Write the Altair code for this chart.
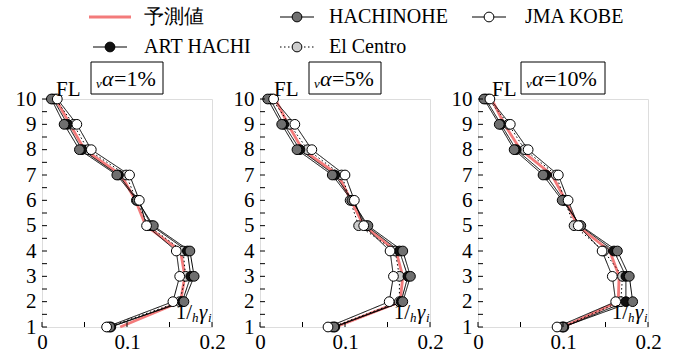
import altair as alt
import pandas as pd

FONT = "Liberation Serif"

floors = [1, 2, 3, 4, 5, 6, 7, 8, 9, 10]
series_names = ["予測値", "HACHINOHE", "ART HACHI", "El Centro", "JMA KOBE"]
panel_labels = ["1%", "5%", "10%"]

# panel 1 : alpha = 1%
p1_pred = [0.092, 0.163, 0.168, 0.163, 0.122, 0.110, 0.093, 0.050, 0.033, 0.016]
p1_hachinohe = [0.080, 0.167, 0.179, 0.174, 0.131, 0.112, 0.088, 0.044, 0.026, 0.011]
p1_art = [0.081, 0.165, 0.175, 0.171, 0.129, 0.113, 0.090, 0.047, 0.030, 0.013]
p1_elcentro = [0.078, 0.162, 0.169, 0.166, 0.125, 0.111, 0.099, 0.054, 0.037, 0.016]
p1_kobe = [0.076, 0.154, 0.162, 0.158, 0.123, 0.1145, 0.103, 0.058, 0.041, 0.018]

# panel 2 : alpha = 5%
p2_pred = [0.089, 0.165, 0.168, 0.160, 0.122, 0.107, 0.092, 0.050, 0.033, 0.018]
p2_hachinohe = [0.087, 0.168, 0.177, 0.168, 0.127, 0.108, 0.085, 0.0435, 0.0255, 0.009]
p2_art = [0.088, 0.166, 0.174, 0.164, 0.125, 0.109, 0.088, 0.047, 0.028, 0.012]
p2_elcentro = [0.085, 0.164, 0.164, 0.159, 0.116, 0.106, 0.096, 0.056, 0.035, 0.014]
p2_kobe = [0.080, 0.152, 0.157, 0.153, 0.122, 0.111, 0.100, 0.061, 0.041, 0.016]

# panel 3 : alpha = 10%
p3_pred = [0.100, 0.165, 0.166, 0.155, 0.117, 0.103, 0.087, 0.050, 0.031, 0.016]
p3_hachinohe = [0.100, 0.182, 0.178, 0.164, 0.121, 0.099, 0.0765, 0.0425, 0.025, 0.007]
p3_art = [0.101, 0.174, 0.174, 0.160, 0.120, 0.101, 0.080, 0.045, 0.027, 0.009]
p3_elcentro = [0.099, 0.168, 0.170, 0.148, 0.113, 0.102, 0.092, 0.055, 0.036, 0.012]
p3_kobe = [0.093, 0.162, 0.158, 0.146, 0.118, 0.106, 0.0945, 0.059, 0.038, 0.014]

x_labels = [0, 0.1, 0.2]
y_labels = [1, 2, 3, 4, 5, 6, 7, 8, 9, 10]
x_ticks = [0, 0.05, 0.1, 0.15, 0.2]
y_ticks = [1, 1.5, 2, 2.5, 3, 3.5, 4, 4.5, 5, 5.5, 6, 6.5, 7, 7.5, 8, 8.5, 9, 9.5, 10]

panels_data = [
    [p1_pred, p1_hachinohe, p1_art, p1_elcentro, p1_kobe],
    [p2_pred, p2_hachinohe, p2_art, p2_elcentro, p2_kobe],
    [p3_pred, p3_hachinohe, p3_art, p3_elcentro, p3_kobe],
]

rows = []
for pi, sets in enumerate(panels_data):
    for name, vals in zip(series_names, sets):
        for f, v in zip(floors, vals):
            rows.append({"panel": pi, "series": name, "floor": f, "value": v})
df = pd.DataFrame(rows)

marker_series = ["HACHINOHE", "ART HACHI", "El Centro", "JMA KOBE"]
marker_fill = ["#6f6f6f", "#111111", "#cccccc", "#ffffff"]
dash_range = [[1, 0], [1, 0], [1.5, 2.5], [1, 0]]
draw_order = ["El Centro", "ART HACHI", "HACHINOHE", "JMA KOBE"]
RED = "#f37b7b"

W, H = 170, 228


def panel(pi):
    d = df[df.panel == pi]
    xs = alt.Scale(domain=[0, 0.2], nice=False, zero=False)
    ys = alt.Scale(domain=[1, 10], nice=False, zero=False)
    xax = alt.Axis(values=x_labels, labelExpr="datum.value == 0 ? '0' : format(datum.value, '.1f')",
                   ticks=False, domain=False, grid=False, title=None, labelFlush=False,
                   labelOverlap=False, labelFont=FONT, labelFontSize=21, labelColor="black",
                   labelPadding=4)
    yax = alt.Axis(values=y_labels, ticks=False, domain=False, grid=False, title=None,
                   labelFlush=False, labelOverlap=False, labelFont=FONT, labelFontSize=21,
                   labelColor="black", labelPadding=6)

    ytick = alt.Chart(pd.DataFrame({"t": y_ticks})).mark_rule(color="black", strokeWidth=1).encode(
        y=alt.Y("t:Q", scale=ys, axis=yax), x=alt.value(0), x2=alt.value(5))
    xtick = alt.Chart(pd.DataFrame({"t": x_ticks})).mark_rule(color="black", strokeWidth=1).encode(
        x=alt.X("t:Q", scale=xs, axis=xax), y=alt.value(H), y2=alt.value(H - 5))

    red = alt.Chart(d[d.series == "予測値"]).mark_line(color=RED, strokeWidth=2.8).encode(
        x=alt.X("value:Q", scale=xs, axis=xax), y=alt.Y("floor:Q", scale=ys, axis=yax),
        order="floor:Q")

    dm = d[d.series != "予測値"]
    lines = alt.Chart(dm).mark_line(color="black", strokeWidth=1).encode(
        x=alt.X("value:Q", scale=xs, axis=xax), y=alt.Y("floor:Q", scale=ys, axis=yax),
        detail="series:N", order="floor:Q",
        strokeDash=alt.StrokeDash("series:N", scale=alt.Scale(domain=marker_series, range=dash_range),
                                  legend=None))

    dp = dm.copy()
    dp["k"] = dp.series.map({s: i for i, s in enumerate(draw_order)})
    dp = dp.sort_values(["k", "floor"])
    pts = alt.Chart(dp).mark_point(shape="circle", filled=True, size=95, stroke="black",
                                   strokeWidth=1, opacity=1).encode(
        x=alt.X("value:Q", scale=xs, axis=xax), y=alt.Y("floor:Q", scale=ys, axis=yax),
        fill=alt.Fill("series:N", scale=alt.Scale(domain=marker_series, range=marker_fill),
                      legend=None))

    lab = panel_labels[pi]
    bw = 72 if len(lab) == 2 else 84
    bx0 = W / 2 - bw / 2
    one = alt.Chart(pd.DataFrame({"lab": ["=" + lab]}))
    box = one.mark_rect(fill="white", stroke="black", strokeWidth=1).encode(
        x=alt.value(bx0), x2=alt.value(bx0 + bw), y=alt.value(-37), y2=alt.value(-5))
    t_nu = one.mark_text(text="ν", font=FONT, fontSize=13, fontStyle="italic", align="left",
                         baseline="alphabetic", color="black").encode(
        x=alt.value(bx0 + 5), y=alt.value(-11))
    t_al = one.mark_text(text="α", font=FONT, fontSize=22, fontStyle="italic", align="left",
                         baseline="alphabetic", color="black").encode(
        x=alt.value(bx0 + 11), y=alt.value(-13))
    t_eq = one.mark_text(font=FONT, fontSize=22, align="left", baseline="alphabetic",
                         color="black").encode(
        text="lab:N", x=alt.value(bx0 + 23), y=alt.value(-13))
    fl = one.mark_text(text="FL", font=FONT, fontSize=21, align="left", baseline="alphabetic",
                       color="black").encode(x=alt.value(14), y=alt.value(-3))
    g1 = one.mark_text(text="1/", font=FONT, fontSize=21, align="right", baseline="alphabetic",
                       color="black").encode(x=alt.value(150), y=alt.value(H - 8))
    g2 = one.mark_text(text="h", font=FONT, fontSize=13, fontStyle="italic", align="left",
                       baseline="alphabetic", color="black").encode(x=alt.value(150), y=alt.value(H - 5))
    g3 = one.mark_text(text="γ", font=FONT, fontSize=21, fontStyle="italic", align="left",
                       baseline="alphabetic", color="black").encode(x=alt.value(157), y=alt.value(H - 8))
    g4 = one.mark_text(text="i", font=FONT, fontSize=13, fontStyle="italic", align="left",
                       baseline="alphabetic", color="black").encode(x=alt.value(166), y=alt.value(H - 5))

    return alt.layer(red, lines, pts, ytick, xtick, box, t_nu, t_al, t_eq, fl, g1, g2, g3, g4).properties(
        width=W, height=H)


# legend
legend_order = ["予測値", "HACHINOHE", "JMA KOBE", "ART HACHI", "El Centro"]
col_cx = [68, 255, 447]
col_tx = [102, 287, 483]
row_y = [16, 46]
leg_rows = []
for i, name in enumerate(legend_order):
    c, r = i % 3, i // 3
    half = 21 if name == "予測値" else 17
    leg_rows.append({"name": name, "cx": col_cx[c], "x0": col_cx[c] - half, "x1": col_cx[c] + half,
                     "tx": col_tx[c], "y": row_y[r]})
leg = pd.DataFrame(leg_rows)
LW = 606
lxs = alt.Scale(domain=[0, LW], nice=False, zero=False)
lys = alt.Scale(domain=[60, 0], nice=False, zero=False)
lbase = alt.Chart(leg)
l_red = lbase.transform_filter("datum.name == '予測値'").mark_rule(color=RED, strokeWidth=2.8).encode(
    x=alt.X("x0:Q", scale=lxs, axis=None), x2="x1:Q", y=alt.Y("y:Q", scale=lys, axis=None))
l_lines = lbase.transform_filter("datum.name != '予測値'").mark_rule(color="black", strokeWidth=1).encode(
    x=alt.X("x0:Q", scale=lxs, axis=None), x2="x1:Q", y=alt.Y("y:Q", scale=lys, axis=None),
    strokeDash=alt.StrokeDash("name:N", scale=alt.Scale(domain=marker_series, range=dash_range), legend=None))
l_pts = lbase.transform_filter("datum.name != '予測値'").mark_point(
    shape="circle", filled=True, size=95, stroke="black", strokeWidth=1, opacity=1).encode(
    x=alt.X("cx:Q", scale=lxs, axis=None), y=alt.Y("y:Q", scale=lys, axis=None),
    fill=alt.Fill("name:N", scale=alt.Scale(domain=marker_series, range=marker_fill), legend=None))
l_txt = lbase.mark_text(font=FONT, fontSize=20, align="left", baseline="middle", color="black").encode(
    x=alt.X("tx:Q", scale=lxs, axis=None), y=alt.Y("y:Q", scale=lys, axis=None), text="name:N")
legend = alt.layer(l_red, l_lines, l_pts, l_txt).properties(
    width=LW, height=60, view=alt.ViewBackground(stroke="transparent"))

panels = alt.hconcat(panel(0), panel(1), panel(2), spacing=48, bounds="flush")
chart = alt.vconcat(legend, panels, spacing=38, bounds="flush").resolve_scale(
    strokeDash="independent", fill="independent").properties(
    padding={"left": 14, "top": 0, "right": 5, "bottom": 5}).configure_view(
    stroke="black", strokeWidth=1).configure(font=FONT, background="white")

chart.save("out.html", embed_options={"renderer": "svg", "actions": False})
